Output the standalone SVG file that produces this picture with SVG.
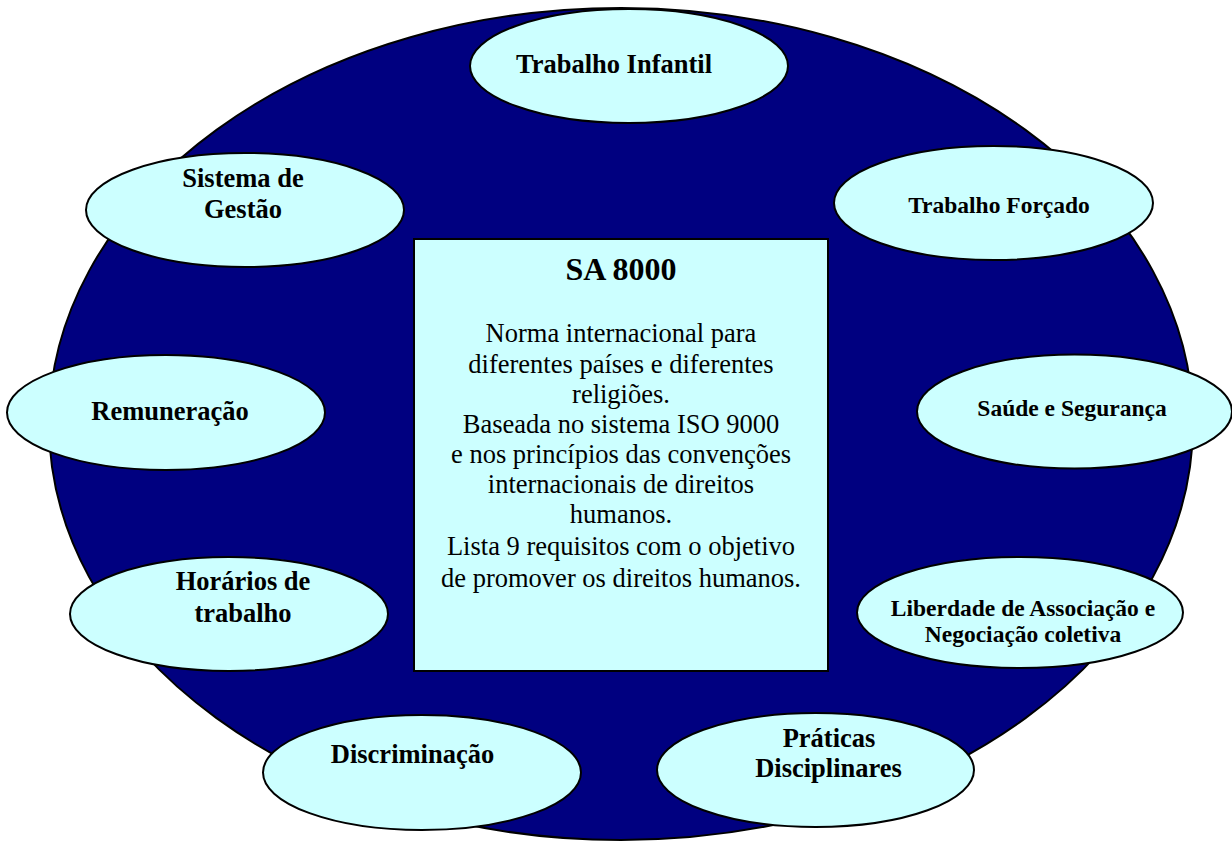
<svg xmlns="http://www.w3.org/2000/svg" width="1232" height="841" viewBox="0 0 1232 841">
  <style>
    .bg { fill: #000080; stroke: #000000; stroke-width: 2; }
    .topic { fill: #CCFFFF; stroke: #000000; stroke-width: 2; }
    .box { fill: #CCFFFF; stroke: #000000; stroke-width: 2; }
    .lbl { font-family: "Liberation Serif", "Times New Roman", serif; font-weight: bold; font-size: 26.5px; fill: #000000; text-anchor: middle; }
    .lbl.sm { font-size: 23.5px; }
    .title { font-family: "Liberation Serif", "Times New Roman", serif; font-weight: bold; font-size: 32px; fill: #000000; text-anchor: middle; }
    .body { font-family: "Liberation Serif", "Times New Roman", serif; font-size: 26.5px; fill: #000000; text-anchor: middle; }
  </style>

  <!-- backdrop disc -->
  <ellipse class="bg" cx="621" cy="424" rx="572" ry="416"/>

  <!-- no connectors in this figure -->
  <g id="connectors"/>

  <g id="center">
    <rect class="box" x="414" y="239" width="414" height="432"/>
    <text class="title" x="621" y="280">SA 8000</text>
    <text class="body" x="621" y="342">Norma internacional para</text>
    <text class="body" x="621" y="373">diferentes países e diferentes</text>
    <text class="body" x="621" y="403">religiões.</text>
    <text class="body" x="621" y="433">Baseada no sistema ISO 9000</text>
    <text class="body" x="621" y="463">e nos princípios das convenções</text>
    <text class="body" x="621" y="493">internacionais de direitos</text>
    <text class="body" x="621" y="523">humanos.</text>
    <text class="body" x="621" y="555">Lista 9 requisitos com o objetivo</text>
    <text class="body" x="621" y="587">de promover os direitos humanos.</text>
  </g>

  <g id="trabalho-infantil">
    <ellipse class="topic" cx="629" cy="66" rx="159" ry="57"/>
    <text class="lbl" x="614" y="73">Trabalho Infantil</text>
  </g>

  <g id="trabalho-forcado">
    <ellipse class="topic" cx="993.5" cy="203" rx="159.5" ry="57"/>
    <text class="lbl sm" x="999" y="213">Trabalho Forçado</text>
  </g>

  <g id="sistema-gestao">
    <ellipse class="topic" cx="245" cy="210" rx="159" ry="57"/>
    <text class="lbl" x="243" y="187">Sistema de</text>
    <text class="lbl" x="243" y="218">Gestão</text>
  </g>

  <g id="remuneracao">
    <ellipse class="topic" cx="166" cy="412.5" rx="159" ry="57.5"/>
    <text class="lbl" x="170" y="420">Remuneração</text>
  </g>

  <g id="saude-seguranca">
    <ellipse class="topic" cx="1074.5" cy="411.5" rx="157.5" ry="57"/>
    <text class="lbl sm" x="1072" y="416">Saúde e Segurança</text>
  </g>

  <g id="horarios">
    <ellipse class="topic" cx="229" cy="614" rx="159" ry="57"/>
    <text class="lbl" x="243" y="590">Horários de</text>
    <text class="lbl" x="243" y="622">trabalho</text>
  </g>

  <g id="liberdade-associacao">
    <ellipse class="topic" cx="1020" cy="612.5" rx="163" ry="55.5"/>
    <text class="lbl sm" x="1023" y="616">Liberdade de Associação e</text>
    <text class="lbl sm" x="1023" y="642">Negociação coletiva</text>
  </g>

  <g id="discriminacao">
    <ellipse class="topic" cx="422" cy="772.5" rx="159" ry="57.5"/>
    <text class="lbl" x="412.5" y="763">Discriminação</text>
  </g>

  <g id="praticas-disciplinares">
    <ellipse class="topic" cx="815.5" cy="770" rx="158.5" ry="57"/>
    <text class="lbl" x="829" y="747">Práticas</text>
    <text class="lbl" x="828.5" y="777">Disciplinares</text>
  </g>
</svg>
